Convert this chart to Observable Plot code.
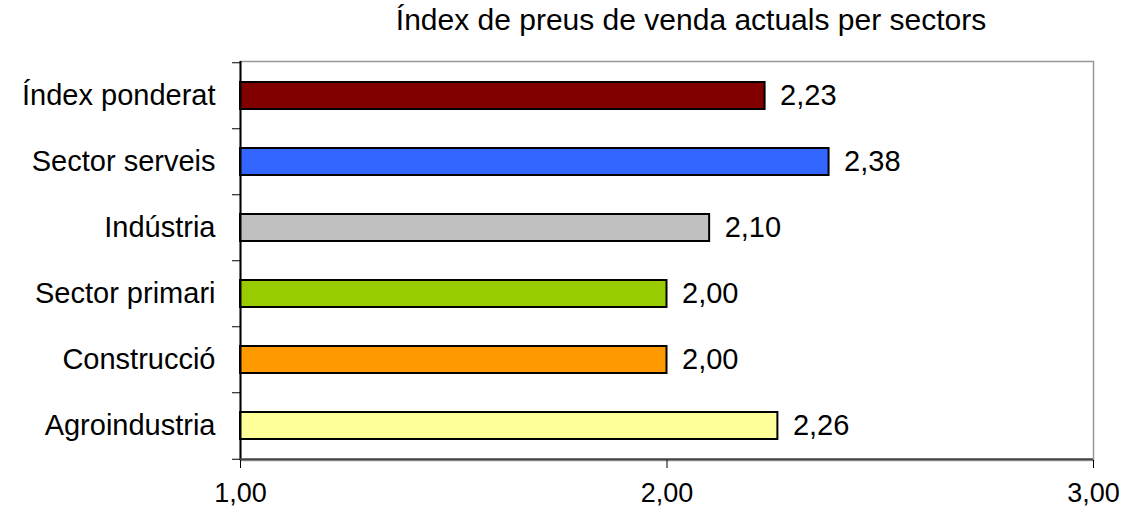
<!DOCTYPE html>
<html>
<head>
<meta charset="utf-8">
<script src="https://cdn.jsdelivr.net/npm/d3@7"></script>
<script src="https://cdn.jsdelivr.net/npm/@observablehq/plot@0.6"></script>
<style>
  html, body { margin: 0; padding: 0; background: #fff; }
  #chart svg { display: block; }
</style>
</head>
<body>
<div id="chart"></div>
<script>
const title = "Índex de preus de venda actuals per sectors";
const categories = ["Índex ponderat", "Sector serveis", "Indústria", "Sector primari", "Construcció", "Agroindustria"];
const values = [2.23, 2.38, 2.10, 2.00, 2.00, 2.26];
const colors = ["#800000", "#3366FF", "#C0C0C0", "#99CC00", "#FF9900", "#FFFF99"];
const xTicks = [1, 2, 3];

const data = categories.map((c, i) => ({category: c, value: values[i], color: colors[i]}));
const fmt = d => d3.format(".2f")(d).replace(".", ",");

const W = 1125, H = 507;
const mTop = 61, mBottom = 47, mLeft = 240, mRight = 32;
const step = (H - mTop - mBottom) / categories.length;
const font = "Liberation Sans, Arial, sans-serif";

const chart = Plot.plot({
  width: W,
  height: H,
  marginTop: mTop,
  marginBottom: mBottom,
  marginLeft: mLeft,
  marginRight: mRight,
  style: {fontFamily: font, fontSize: "29px", color: "#000", background: "#fff"},
  x: {domain: [1, 3], ticks: xTicks, label: null},
  y: {domain: categories, paddingInner: 0.594, paddingOuter: 0.297, label: null},
  marks: [
    Plot.frame({stroke: "#999", strokeWidth: 1.5}),
    Plot.barX(data, {x1: 1, x2: "value", y: "category", fill: "color", stroke: "#000", strokeWidth: 2}),
    Plot.ruleX([1], {stroke: "#000", strokeWidth: 2}),
    Plot.ruleY([categories[categories.length - 1]], {dy: step / 2, stroke: "#444", strokeWidth: 2}),
    Plot.axisX(xTicks, {tickSize: 8, tickPadding: 14, tickFormat: fmt, fontSize: 27, stroke: "#000", label: null}),
    Plot.axisY({tickSize: 0, tickPadding: 25, fontSize: 29, label: null}),
    Plot.axisY(categories, {tickSize: 8, tickFormat: () => "", dy: -step / 2, label: null}),
    Plot.axisY([categories[categories.length - 1]], {tickSize: 8, tickFormat: () => "", dy: step / 2, label: null}),
    Plot.text(data, {x: "value", y: "category", text: d => fmt(d.value), textAnchor: "start", dx: 15, fontSize: 29, fill: "#000"}),
    Plot.text([title], {frameAnchor: "top", dx: 24, dy: -53, fontSize: 30, fill: "#000"})
  ]
});
document.getElementById("chart").appendChild(chart);
</script>
</body>
</html>
